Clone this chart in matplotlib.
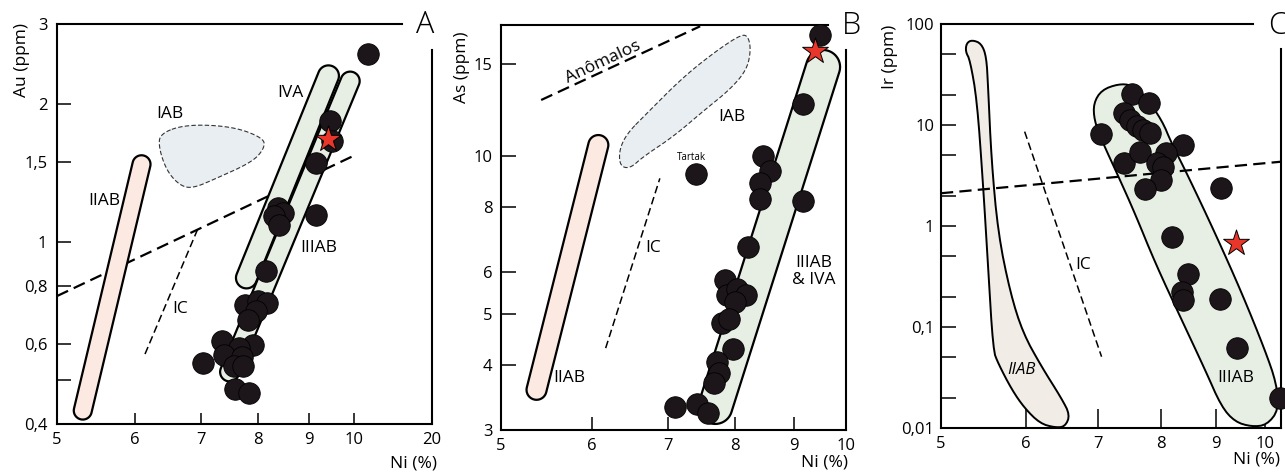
import numpy as np
import matplotlib
matplotlib.use('Agg')
import matplotlib.pyplot as plt
from matplotlib.patches import Polygon
from matplotlib.transforms import IdentityTransform

plt.rcParams['font.family'] = ['Open Sans', 'DejaVu Sans']

DOT = '#1c161a'
STAR = '#e8362a'
PINK = '#fce9e1'
GREEN = '#e7efe4'
BLUE = '#e8eef2'
BEIGE = '#f1ece5'
TICK_FS = 12
LAB_FS = 12.5

# ---------------- panel A : Au (ppm) vs Ni (%)
a_ni = [11.8, 9.46, 9.5, 9.15, 8.37, 8.47, 8.3, 8.4, 9.15, 8.14, 7.75, 7.99, 8.16,
        7.96, 7.8, 7.35, 7.9, 7.65, 7.38, 7.03, 7.7, 7.55, 7.72, 7.57, 7.83]
a_au = [2.58, 1.84, 1.66, 1.49, 1.187, 1.157, 1.14, 1.09, 1.146, 0.864, 0.728, 0.743,
        0.736, 0.706, 0.675, 0.607, 0.595, 0.586, 0.566, 0.544, 0.56, 0.535, 0.535,
        0.477, 0.467]
a_star = ([9.42], [1.68])
a_xticks = [5, 6, 7, 8, 9, 10, 20]
a_yticks = [0.4, 0.5, 0.6, 0.8, 1, 1.5, 2, 3]
a_ylabels = ['0,4', '', '0,6', '0,8', '1', '1,5', '2', '3']
a_iiab = [(5.31, 0.428), (6.09, 1.48)]
a_iva = [(7.78, 0.835), (9.42, 2.31)]
a_iiiab = [(7.48, 0.52), (9.91, 2.25)]
a_iab_ni = [6.36, 6.77, 7.54, 8.09, 8.12, 7.90, 7.26, 6.86, 6.66, 6.46, 6.34]
a_iab_au = [1.73, 1.81, 1.79, 1.69, 1.61, 1.50, 1.38, 1.31, 1.33, 1.43, 1.61]
a_trend = ([5.0, 10.14], [0.762, 1.55])
a_ic = ([6.14, 6.95], [0.569, 1.073])

# ---------------- panel B : As (ppm) vs Ni (%)
b_ni = [9.5, 9.17, 8.46, 8.58, 8.42, 8.42, 9.17, 8.22, 7.84, 7.87, 8.04, 8.18, 8.0,
        7.8, 7.9, 7.97, 7.72, 7.75, 7.67, 7.09, 7.41, 7.58]
b_as = [17.0, 12.6, 10.0, 9.36, 8.88, 8.28, 8.2, 6.7, 5.8, 5.43, 5.58, 5.43, 5.27,
        4.8, 4.89, 4.28, 4.04, 3.85, 3.69, 3.32, 3.36, 3.23]
b_star = ([9.4], [15.9])
b_tartak = ([7.4], [9.24])
b_xticks = [5, 6, 7, 8, 9, 10]
b_yticks = [3, 4, 5, 6, 8, 10, 15]
b_iiab = [(5.37, 3.58), (6.08, 10.5)]
b_iiiab = [(7.69, 3.32), (9.55, 14.8)]
b_iab_ni = [6.44, 6.70, 7.21, 7.71, 8.11, 8.22, 8.26, 8.19, 7.92, 7.51, 7.07, 6.65,
            6.48, 6.35, 6.34]
b_iab_as = [11.05, 12.06, 14.16, 15.9, 17.1, 16.9, 15.9, 14.6, 13.4, 12.2, 10.9, 9.97,
            9.47, 9.57, 10.27]
b_anom = ([5.42, 7.46], [12.8, 17.7])
b_ic = ([6.17, 6.88], [4.30, 9.07])

# ---------------- panel C : Ir (ppm) vs Ni (%)
c_ni = [7.52, 7.80, 7.04, 7.39, 7.49, 7.60, 7.71, 7.82, 7.39, 7.65, 8.40, 8.10, 7.93,
        8.04, 8.01, 7.74, 9.10, 8.20, 8.49, 8.38, 8.40, 9.09, 9.43, 10.33]
c_ir = [20.2, 16.4, 8.15, 13.2, 11.2, 9.77, 8.9, 8.27, 4.18, 5.44, 6.34, 5.25, 4.24,
        3.86, 2.85, 2.31, 2.36, 0.773, 0.335, 0.224, 0.185, 0.188, 0.0616, 0.0197]
c_star = ([9.40], [0.684])
c_xticks = [5, 6, 7, 8, 9, 10]
c_yticks = [0.01, 0.1, 1, 10, 100]
c_ylabels = ['0,01', '0,1', '1', '10', '100']
c_yminor = [0.02, 0.05, 0.2, 0.5, 2, 5, 20, 50]
c_iiab_ni = [5.28, 5.34, 5.45, 5.51, 5.53, 5.57, 5.65, 5.80, 5.96, 6.20, 6.47, 6.59,
             6.52, 6.38, 6.18, 5.98, 5.82, 5.65, 5.59, 5.53, 5.47, 5.40, 5.32, 5.27]
c_iiab_ir = [64.4, 69.5, 64.4, 47.5, 23.9, 4.5, 0.847, 0.216, 0.0866, 0.0405, 0.0197,
             0.01345, 0.0103, 0.0101, 0.0111, 0.0157, 0.0238, 0.0437, 0.0592, 0.395,
             2.65, 17.7, 44.0, 53.2]
c_iiiab_ni = [6.93, 7.05, 7.31, 7.52, 7.74, 8.02, 8.19, 8.49, 8.99, 9.52, 10.0, 10.25,
              10.3, 10.04, 9.72, 9.38, 9.11, 8.80, 8.37, 7.91, 7.57, 7.31, 7.05, 6.94]
c_iiiab_ir = [16.4, 22.2, 25.5, 24.9, 19.1, 11.2, 6.59, 3.08, 0.847, 0.216, 0.0592,
              0.0277, 0.0151, 0.0107, 0.0103, 0.0115, 0.0163, 0.0375, 0.117, 0.427,
              1.34, 3.08, 7.1, 11.2]
c_trend = ([5.0, 10.35], [2.11, 4.33])
c_ic = ([5.98, 7.05], [8.6, 0.0508])


def capsule(ax, p0, p1, half_w, color):
    """Rounded band between two data points, built in pixel space."""
    a = ax.transData.transform(p0)
    b = ax.transData.transform(p1)
    ang = np.arctan2(b[1] - a[1], b[0] - a[0])
    t1 = np.linspace(ang + np.pi / 2, ang + 3 * np.pi / 2, 30)
    t2 = np.linspace(ang - np.pi / 2, ang + np.pi / 2, 30)
    pts = np.vstack([a + half_w * np.c_[np.cos(t1), np.sin(t1)],
                     b + half_w * np.c_[np.cos(t2), np.sin(t2)]])
    ax.add_patch(Polygon(pts, closed=True, transform=IdentityTransform(),
                         facecolor=color, edgecolor='black', lw=1.6, zorder=2))


def blob(ax, xs, ys, color, ls='-', lw=1.4, ec='black', n=3):
    """Closed outline through data vertices, corner-cut for a hand drawn look."""
    p = ax.transData.transform(np.c_[xs, ys])
    for _ in range(n):
        q = np.roll(p, -1, axis=0)
        new = np.empty((2 * len(p), 2))
        new[0::2] = 0.75 * p + 0.25 * q
        new[1::2] = 0.25 * p + 0.75 * q
        p = new
    ax.add_patch(Polygon(p, closed=True, transform=IdentityTransform(),
                         facecolor=color, edgecolor=ec, lw=lw, ls=ls, zorder=2))


def frame(ax, top_end, right_start, letter, lx, ly, ylabel, ylx, yly, nx, ny):
    ax.spines['top'].set_visible(False)
    ax.spines['right'].set_visible(False)
    for s in ('left', 'bottom'):
        ax.spines[s].set_linewidth(1.5)
    ax.plot([0, top_end], [1, 1], color='black', lw=1.5, transform=ax.transAxes,
            clip_on=False)
    ax.plot([1, 1], [0, right_start], color='black', lw=1.5, transform=ax.transAxes,
            clip_on=False)
    ax.text(lx, ly, letter, transform=ax.transAxes, fontsize=22, fontweight='light',
            ha='center', va='center')
    ax.text(ylx, yly, ylabel, transform=ax.transAxes, rotation=90, fontsize=LAB_FS,
            ha='center', va='center')
    ax.text(nx, ny, 'Ni (%)', transform=ax.transAxes, fontsize=LAB_FS,
            ha='right', va='center')


def dots(ax, x, y, star):
    ax.scatter(x, y, s=240, color=DOT, edgecolor='black', lw=0.6, zorder=5,
               clip_on=False)
    ax.scatter(*star, marker='*', s=380, color=STAR, edgecolor='black', lw=0.7,
               zorder=6, clip_on=False)


fig = plt.figure(figsize=(12.85, 4.76), dpi=100)
W, H = 1285, 476

# ---------------- A
axA = fig.add_axes([57 / W, (H - 424) / H, 375 / W, 400 / H])


def fwd(x):
    x = np.asarray(x, float)
    return np.where(x <= 10, np.log10(np.clip(x, 1e-9, None)), 1 + (x - 10) * 0.0079)


def inv(y):
    y = np.asarray(y, float)
    return np.where(y <= 1, 10 ** np.clip(y, -9, 1), 10 + (y - 1) / 0.0079)


axA.set_xscale('function', functions=(fwd, inv))
axA.set_yscale('log')
axA.set_xlim(5, 20)
axA.set_ylim(0.4, 3)
axA.set_xticks(a_xticks, [str(t) for t in a_xticks])
axA.set_yticks(a_yticks, a_ylabels)
axA.minorticks_off()
axA.tick_params(axis='y', direction='in', length=10, width=1.1, pad=7, labelsize=TICK_FS)
axA.tick_params(axis='x', direction='in', length=8, width=1.1, pad=6, labelsize=TICK_FS)

axA.plot(*a_trend, color='black', lw=1.6, dashes=(5.5, 2.8), zorder=1)
axA.plot(*a_ic, color='black', lw=1.1, dashes=(5, 2.6), zorder=1)
capsule(axA, a_iiab[0], a_iiab[1], 9, PINK)
capsule(axA, a_iva[0], a_iva[1], 10.5, GREEN)
capsule(axA, a_iiiab[0], a_iiiab[1], 9.5, GREEN)
blob(axA, a_iab_ni, a_iab_au, BLUE, ls=(0, (4, 2)), lw=0.8, ec='#333333')
for txt, x, y in [('IVA', 8.61, 2.12), ('IAB', 6.51, 1.91), ('IIAB', 5.58, 1.23),
                  ('IIIAB', 9.22, 0.97), ('IC', 6.66, 0.714)]:
    axA.text(x, y, txt, fontsize=LAB_FS, ha='center', va='center', zorder=4)
dots(axA, a_ni, a_au, a_star)
frame(axA, 0.92, 0.935, 'A', 0.981, 0.9975, 'Au (ppm)', -0.093, 0.91, 1.013, -0.0975)

# ---------------- B
axB = fig.add_axes([501 / W, (H - 430) / H, 345 / W, 405 / H])
axB.set_xscale('log')
axB.set_yscale('log')
axB.set_xlim(5, 10)
axB.set_ylim(3, 17.8)
axB.set_xticks(b_xticks, [str(t) for t in b_xticks])
axB.set_yticks(b_yticks, [str(t) for t in b_yticks])
axB.minorticks_off()
axB.tick_params(axis='y', direction='in', length=11, width=1.1, pad=6, labelsize=TICK_FS)
axB.tick_params(axis='x', direction='in', length=9.5, width=1.1, pad=6, labelsize=TICK_FS)

axB.plot(*b_anom, color='black', lw=1.6, dashes=(5.5, 2.8), zorder=1)
axB.plot(*b_ic, color='black', lw=1.1, dashes=(5, 2.6), zorder=1)
capsule(axB, b_iiab[0], b_iiab[1], 10, PINK)
capsule(axB, b_iiiab[0], b_iiiab[1], 17, GREEN)
blob(axB, b_iab_ni, b_iab_as, BLUE, ls=(0, (4, 2)), lw=0.8, ec='#333333')
axB.text(6.14, 15.1, 'Anômalos', fontsize=LAB_FS, rotation=25, rotation_mode='anchor',
         ha='center', va='center')
for txt, x, y in [('IAB', 7.95, 11.9), ('IIAB', 5.74, 3.77), ('IC', 6.79, 6.67),
                  ('IIIAB\n& IVA', 9.37, 6.02)]:
    axB.text(x, y, txt, fontsize=LAB_FS, ha='center', va='center', zorder=4,
             linespacing=1.15)
axB.scatter(*b_tartak, s=240, color=DOT, edgecolor='black', lw=0.6, zorder=5)
axB.text(7.33, 9.96, 'Tartak', fontsize=7, ha='center', va='center')
dots(axB, b_ni, b_as, b_star)
frame(axB, 0.948, 0.938, 'B', 1.017, 0.9975, 'As (ppm)', -0.112, 0.895, 1.006, -0.081)

# ---------------- C
axC = fig.add_axes([941 / W, (H - 428) / H, 340 / W, 404 / H])
axC.set_xscale('log')
axC.set_yscale('log')
axC.set_xlim(5, 10.35)
axC.set_ylim(0.01, 100)
axC.set_xticks(c_xticks, [str(t) for t in c_xticks])
axC.set_yticks(c_yticks, c_ylabels)
axC.set_yticks(c_yminor, minor=True)
axC.set_yticklabels([], minor=True)
axC.xaxis.set_minor_locator(matplotlib.ticker.NullLocator())
axC.tick_params(axis='y', which='both', direction='in', length=11, width=1.1, pad=5,
                labelsize=TICK_FS)
axC.tick_params(axis='x', direction='in', length=14, width=1.1, pad=6, labelsize=TICK_FS)

blob(axC, c_iiab_ni, c_iiab_ir, BEIGE, lw=1.4, n=2)
blob(axC, c_iiiab_ni, c_iiiab_ir, GREEN, lw=1.4, n=2)
axC.plot(*c_trend, color='black', lw=1.6, dashes=(5.5, 2.8), zorder=3)
axC.plot(*c_ic, color='black', lw=1.1, dashes=(5, 2.6), zorder=3)
axC.text(6.78, 0.411, 'IC', fontsize=LAB_FS, ha='center', va='center')
axC.text(5.94, 0.0375, 'IIAB', fontsize=12, style='italic', ha='center', va='center',
         zorder=4)
axC.text(9.4, 0.031, 'IIIAB', fontsize=LAB_FS, ha='center', va='center', zorder=4)
dots(axC, c_ni, c_ir, c_star)
frame(axC, 0.918, 0.938, 'C', 0.991, 0.995, 'Ir (ppm)', -0.15, 0.918, 0.997, -0.079)

fig.savefig('out.png', dpi=100, facecolor='white')
